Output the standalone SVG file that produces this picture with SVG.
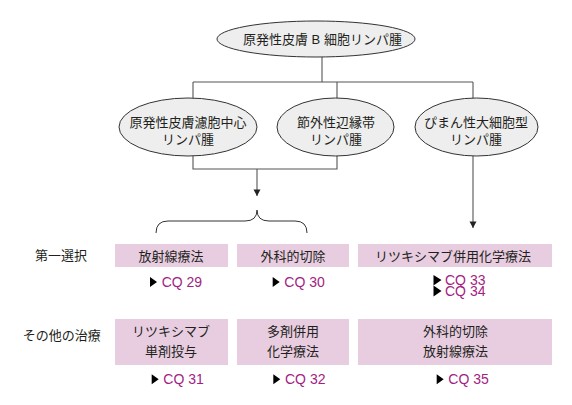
<svg xmlns="http://www.w3.org/2000/svg" width="572" height="405" viewBox="0 0 572 405">
<defs>
<style>
text{font-family:"Liberation Sans","Noto Sans CJK JP",sans-serif;font-size:13px;fill:#231f20}
.c{text-anchor:middle}
.cq{font-size:14px;fill:#a2237f}
.node ellipse{fill:#eeeeee;stroke:#333;stroke-width:1}
.box{fill:#e8cde0}
.tri{fill:#000}
.conn path{fill:none;stroke:#555;stroke-width:1.1}
.brace{fill:none;stroke:#333;stroke-width:1}
</style>
<marker id="arr" markerUnits="userSpaceOnUse" markerWidth="8" markerHeight="8" refX="3.5" refY="7" orient="auto-start-reverse" viewBox="0 0 7 7">
<path d="M0,0 L7,0 L3.5,7 Z" fill="#222" transform="rotate(-90 3.5 3.5)"/>
</marker>
</defs>
<rect width="572" height="405" fill="#fff"/>
<g id="connectors" class="conn">
<path d="M322,57 V82"/>
<path d="M193,82 H473"/>
<path d="M193,82 V100"/>
<path d="M337,82 V99"/>
<path d="M473,82 V99"/>
<path d="M193,155 V169 H337 V155"/>
<path d="M257,169 V196" stroke="#222"/>
<path d="M473,156 V228" stroke="#555"/>
<path d="M253.5,189.5 L260.5,189.5 L257,196 Z" fill="#222" stroke="none" style="fill:#222;stroke:none"/>
<path d="M469.5,221.5 L476.5,221.5 L473,228 Z" style="fill:#222;stroke:none"/>
</g>
<path class="brace" d="M156,233 Q156,221 168,221 L245,221 Q257,221 257,210 Q257,221 269,221 L295,221 Q307,221 307,233"/>
<g id="n-root" class="node">
<ellipse cx="316" cy="39" rx="99" ry="18"/>
<text x="243" y="44">原発性皮膚 B 細胞リンパ腫</text>
</g>
<g id="n-fcl" class="node">
<ellipse cx="188" cy="127" rx="69" ry="29"/>
<text class="c" x="188" y="127">原発性皮膚濾胞中心</text>
<text class="c" x="188" y="144">リンパ腫</text>
</g>
<g id="n-mzl" class="node">
<ellipse cx="335.5" cy="127" rx="58.5" ry="29"/>
<text class="c" x="336" y="127">節外性辺縁帯</text>
<text class="c" x="336" y="144">リンパ腫</text>
</g>
<g id="n-dlbcl" class="node">
<ellipse cx="476.5" cy="127" rx="61.5" ry="29"/>
<text class="c" x="476" y="127">ぴまん性大細胞型</text>
<text class="c" x="476" y="144">リンパ腫</text>
</g>
<g id="lbl-first">
<text x="35" y="260">第一選択</text>
</g>
<g id="lbl-other">
<text x="22.7" y="340">その他の治療</text>
</g>
<g id="b-rt" class="node">
<rect class="box" x="115" y="244" width="113" height="23"/>
<text class="c" x="171" y="261">放射線療法</text>
</g>
<g id="b-surg" class="node">
<rect class="box" x="237" y="244" width="112" height="23"/>
<text class="c" x="293" y="261">外科的切除</text>
</g>
<g id="b-rchemo" class="node">
<rect class="box" x="358" y="244" width="194" height="23"/>
<text class="c" x="453" y="261">リツキシマブ併用化学療法</text>
</g>
<g id="b-rmono" class="node">
<rect class="box" x="115" y="319" width="113" height="46"/>
<text class="c" x="171" y="336">リツキシマブ</text>
<text class="c" x="171" y="356">単剤投与</text>
</g>
<g id="b-chemo" class="node">
<rect class="box" x="237" y="319" width="112" height="46"/>
<text class="c" x="293" y="336">多剤併用</text>
<text class="c" x="293" y="356">化学療法</text>
</g>
<g id="b-surgrt" class="node">
<rect class="box" x="358" y="319" width="194" height="46"/>
<text class="c" x="455.5" y="336">外科的切除</text>
<text class="c" x="455.5" y="356">放射線療法</text>
</g>
<g id="cq">
<path class="tri" d="M150,277 L157,282 L150,287 Z"/>
<text class="cq" x="161.7" y="287">CQ 29</text>
<path class="tri" d="M272.7,277 L279.7,282 L272.7,287 Z"/>
<text class="cq" x="284.3" y="287">CQ 30</text>
<path class="tri" d="M433.5,275 L441.5,280 L433.5,285.5 Z"/>
<text class="cq" x="445" y="285">CQ 33</text>
<path class="tri" d="M433.5,285.5 L441.5,291 L433.5,296.5 Z"/>
<text class="cq" x="445" y="295.7">CQ 34</text>
<path class="tri" d="M151.7,374.3 L158.7,379.3 L151.7,384.3 Z"/>
<text class="cq" x="163.3" y="384.3">CQ 31</text>
<path class="tri" d="M273.3,374.3 L280.3,379.3 L273.3,384.3 Z"/>
<text class="cq" x="285" y="384.3">CQ 32</text>
<path class="tri" d="M436.7,374.3 L443.7,379.3 L436.7,384.3 Z"/>
<text class="cq" x="448.3" y="384.3">CQ 35</text>
</g>
</svg>
